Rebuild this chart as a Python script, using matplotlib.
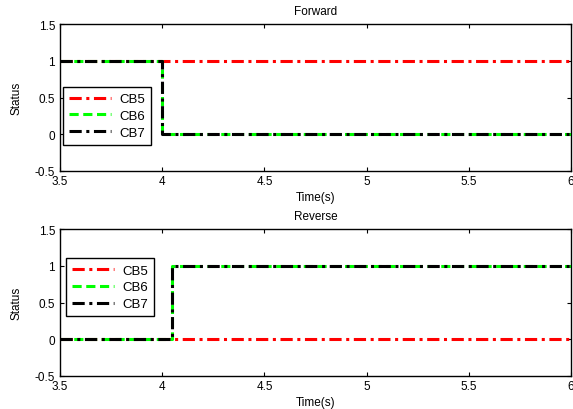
import matplotlib
matplotlib.use("Agg")
import matplotlib.pyplot as plt

plt.rcParams['font.family'] = ['Liberation Sans', 'DejaVu Sans']
plt.rcParams['font.size'] = 8.5

# forward: CB6/CB7 open at t=4.0, CB5 stays closed
fwd_t = [3.5, 4.0, 4.0, 6.0]
fwd_cb5 = [1, 1, 1, 1]
fwd_cb6 = [1, 1, 0, 0]
fwd_cb7 = [1, 1, 0, 0]

# reverse: CB6/CB7 close at t=4.05, CB5 stays open
rev_t = [3.5, 4.05, 4.05, 6.0]
rev_cb5 = [0, 0, 0, 0]
rev_cb6 = [0, 0, 1, 1]
rev_cb7 = [0, 0, 1, 1]

xticks = [3.5, 4, 4.5, 5, 5.5, 6]
yticks = [-0.5, 0, 0.5, 1, 1.5]


def plot_panel(ax, t, cb5, cb6, cb7, title, leg_anchor):
    ax.plot(t, cb5, color='red', linestyle=(0, (4, 1.5, 1, 1.5)), linewidth=2.2, label='CB5')
    ax.plot(t, cb6, color='#00ff00', linestyle=(0, (3, 1.5)), linewidth=2.2, label='CB6')
    ax.plot(t, cb7, color='black', linestyle=(0, (4, 1.5, 1, 1.5)), linewidth=2.2, label='CB7')
    ax.set_xlim(3.5, 6)
    ax.set_ylim(-0.5, 1.5)
    ax.set_xticks(xticks)
    ax.set_xticklabels(['3.5', '4', '4.5', '5', '5.5', '6'])
    ax.set_yticks(yticks)
    ax.set_yticklabels(['-0.5', '0', '0.5', '1', '1.5'])
    ax.tick_params(direction='in', top=True, right=True, length=3)
    ax.tick_params(axis='x', pad=3)
    ax.tick_params(axis='y', pad=3.5)
    ax.set_title(title, fontsize=8.5, pad=7)
    ax.set_xlabel('Time(s)', labelpad=3)
    ax.set_ylabel('Status', labelpad=9)
    for s in ax.spines.values():
        s.set_linewidth(1.0)
    leg = ax.legend(loc='upper left', bbox_to_anchor=leg_anchor, fancybox=False,
                    edgecolor='black', framealpha=1, handlelength=3.2,
                    borderpad=0.45, labelspacing=0.35, handletextpad=0.6,
                    borderaxespad=0, fontsize=9.5)
    leg.get_frame().set_linewidth(1.0)


def main():
    fig = plt.figure(figsize=(5.73, 4.10), dpi=100)
    ax1 = fig.add_axes([0.1047, 0.5805, 0.892, 0.3585])
    ax2 = fig.add_axes([0.1047, 0.0805, 0.892, 0.3585])
    plot_panel(ax1, fwd_t, fwd_cb5, fwd_cb6, fwd_cb7, 'Forward', (0.006, 0.571))
    plot_panel(ax2, rev_t, rev_cb5, rev_cb6, rev_cb7, 'Reverse', (0.012, 0.80))
    fig.savefig('out.png', dpi=100)


main()
